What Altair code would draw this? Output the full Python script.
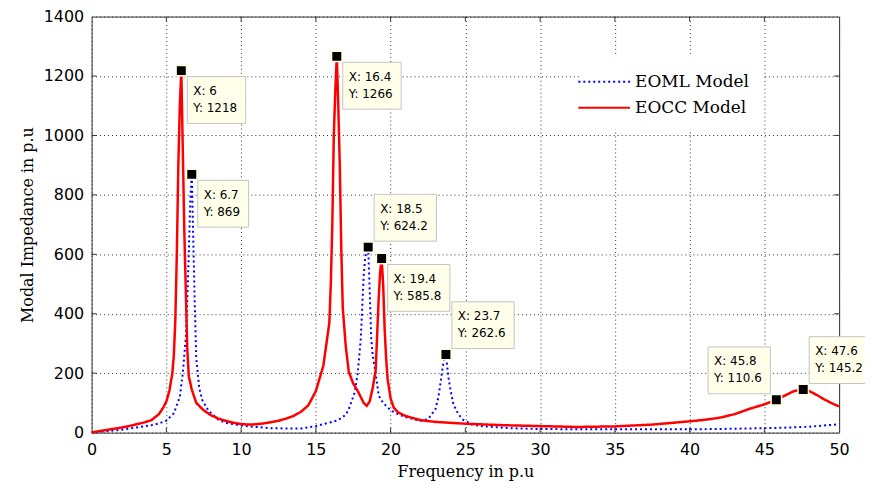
import altair as alt
import pandas as pd

# ---------------- data ----------------
eocc_x = [0, 0.5, 1, 1.5, 2, 2.5, 3, 3.5, 4, 4.5, 4.8, 5.0, 5.2, 5.4, 5.5, 5.6, 5.7, 5.8, 5.9, 6.0,
          6.1, 6.2, 6.3, 6.4, 6.5, 6.7, 7.0, 7.5, 8.0, 8.5, 9.0, 9.5, 10.0, 10.5, 11.0, 11.5, 12.0, 12.5, 13.0, 13.5,
          14.0, 14.5, 15.0, 15.5, 15.9, 16.0, 16.1, 16.2, 16.3, 16.4, 16.5, 16.6, 16.7, 16.8, 17.0, 17.2, 17.5, 17.8, 18.0, 18.2,
          18.4, 18.6, 18.8, 19.0, 19.1, 19.2, 19.3, 19.4, 19.5, 19.6, 19.7, 19.8, 20.0, 20.2, 20.5, 21.0, 22.0, 23.0, 24.0, 25.0,
          27.5, 30.0, 32.5, 35.0, 37.5, 40.0, 41.0, 42.0, 43.0, 44.0, 45.0, 45.8, 46.5, 47.0, 47.6, 48.0, 48.5, 49.0, 49.5, 50.0]
eocc_y = [0, 5, 9, 13, 17, 22, 28, 34, 42, 62, 85, 105, 140, 200, 260, 380, 600, 900, 1100, 1218,
          950, 680, 480, 280, 190, 145, 100, 75, 58, 47, 39, 33, 29, 27, 28, 31, 35, 40, 47, 56,
          70, 92, 140, 225, 369, 500, 700, 1000, 1150, 1266, 1100, 900, 620, 420, 290, 205, 165, 140, 120, 100,
          90, 105, 150, 210, 330, 450, 540, 585.8, 500, 350, 250, 180, 115, 85, 68, 56, 42, 36, 33, 30,
          25, 22, 19, 21, 27, 38, 43, 50, 62, 80, 95, 110.6, 128, 140, 145.2, 140, 127, 112, 99, 88]

eoml_x = [0, 1, 2, 3, 4, 4.5, 5, 5.5, 5.9, 6.1, 6.3, 6.4, 6.5, 6.6, 6.7, 6.8, 6.9, 7.0, 7.2, 7.4,
          7.8, 8.5, 9, 10, 11, 12, 13, 14, 15, 16, 16.5, 17, 17.2, 17.6, 17.8, 18.0, 18.1, 18.2, 18.3, 18.4,
          18.5, 18.6, 18.7, 18.8, 19.0, 19.2, 19.5, 20.0, 20.5, 21, 22, 22.5, 23.0, 23.2, 23.4, 23.5, 23.6, 23.7, 23.8, 23.9,
          24.0, 24.2, 24.5, 24.8, 25.4, 26, 28, 30, 35, 40, 43, 46, 48, 50]
eoml_y = [0, 5, 10, 17, 25, 31, 40, 65, 120, 200, 320, 450, 600, 780, 869, 650, 430, 250, 150, 110,
          75, 42, 33, 24, 19, 15, 14, 14, 22, 35, 42, 60, 79, 135, 200, 313, 420, 530, 590, 615,
          624.2, 480, 320, 260, 200, 125, 100, 75, 62, 52, 40, 45, 79, 120, 190, 225, 255, 262.6, 215, 175,
          146, 95, 65, 45, 28, 22, 15, 12, 11, 11, 13, 16, 20, 28]

series_names = ["EOML Model", "EOCC Model"]
series_colors = ["#0000FF", "#FF0000"]

ann_x = [6, 6.7, 16.4, 18.5, 19.4, 23.7, 45.8, 47.6]
ann_y = [1218, 869, 1266, 624.2, 585.8, 262.6, 110.6, 145.2]
ann_place = ["se", "se", "se", "ne", "se", "ne", "nw", "ne"]

x_ticks = [0, 5, 10, 15, 20, 25, 30, 35, 40, 45, 50]
y_ticks = [0, 200, 400, 600, 800, 1000, 1200, 1400]

# ---------------- layout ----------------
W, H = 751, 418

df = pd.concat([
    pd.DataFrame({"x": eoml_x, "y": eoml_y, "series": series_names[0]}),
    pd.DataFrame({"x": eocc_x, "y": eocc_y, "series": series_names[1]}),
], ignore_index=True)

xs = alt.Scale(domain=[0, 50], nice=False, zero=False)
ys = alt.Scale(domain=[0, 1400], nice=False)

x_axis = alt.Axis(values=x_ticks, format="d", title="Frequency in p.u", grid=True, labelPadding=9,
                  labelFlush=False, titleY=44.5, titleBaseline="alphabetic")
y_axis = alt.Axis(values=y_ticks, format="d", title="Modal Impedance in p.u", grid=True, labelPadding=8,
                  titleX=-59, titleBaseline="alphabetic")

X = alt.X("x:Q", scale=xs, axis=x_axis)
Y = alt.Y("y:Q", scale=ys, axis=y_axis)

# legend: line sample drawn as a custom path wider than its layout box
legend = alt.Legend(title=None, orient="none", legendX=490, legendY=40.5,
                    symbolType="M-2.6,0H2.6", symbolSize=400, symbolStrokeWidth=2,
                    labelFont="DejaVu Serif", labelFontSize=17, labelColor="#000000",
                    labelOffset=20, fillColor="white", padding=14, rowPadding=7, labelLimit=300)
color_enc = alt.Color("series:N", scale=alt.Scale(domain=series_names, range=series_colors), legend=legend)
dash_enc = alt.StrokeDash("series:N", scale=alt.Scale(domain=series_names, range=[[2, 3], [1, 0]]), legend=legend)

base = alt.Chart(df)
blue = base.transform_filter(alt.datum.series == series_names[0]).mark_line(strokeWidth=2).encode(
    x=X, y=Y, color=color_enc, strokeDash=dash_enc)
red = base.transform_filter(alt.datum.series == series_names[1]).mark_line(strokeWidth=2.5).encode(
    x=X, y=Y, color=color_enc, strokeDash=dash_enc)

layers = [blue, red]

# inward ticks (MATLAB style) on all four sides
xt = pd.DataFrame({"x": x_ticks[1:-1]})
yt = pd.DataFrame({"y": y_ticks[1:-1]})
tick_col = "#333333"
layers.append(alt.Chart(xt).mark_rule(color=tick_col).encode(x=X, y=alt.value(0), y2=alt.value(5)))
layers.append(alt.Chart(xt).mark_rule(color=tick_col).encode(x=X, y=alt.value(H), y2=alt.value(H - 5)))
layers.append(alt.Chart(yt).mark_rule(color=tick_col).encode(y=Y, x=alt.value(0), x2=alt.value(5)))
layers.append(alt.Chart(yt).mark_rule(color=tick_col).encode(y=Y, x=alt.value(W), x2=alt.value(W - 5)))

# data-tip markers
ann_df = pd.DataFrame({"x": ann_x, "y": ann_y})
layers.append(alt.Chart(ann_df).mark_square(size=110, fill="black", stroke="#FFFFDD",
                                            strokeWidth=1.5, opacity=1).encode(x=X, y=Y))

char_w = {"X": 0.685, "Y": 0.611, ":": 0.337, " ": 0.318, ".": 0.318}


def text_width(s, fs=12):
    return sum(char_w.get(c, 0.636) for c in s) * fs


BOX_H = 47
GAP = 6
for ax_, ay_, pl in zip(ann_x, ann_y, ann_place):
    l1 = f"X: {ax_:g}"
    l2 = f"Y: {ay_:g}"
    bw = max(text_width(l1), text_width(l2)) + 13
    x0 = GAP if "e" in pl else -GAP - bw
    y0 = GAP if "s" in pl else -GAP - BOX_H
    d = pd.DataFrame({"x": [ax_], "y": [ay_], "label": [l1 + "\n" + l2]})
    layers.append(alt.Chart(d).mark_rect(fill="#FFFFEA", stroke="#C4C4C4", strokeWidth=1,
                                         xOffset=x0, x2Offset=x0 + bw, yOffset=y0, y2Offset=y0 + BOX_H)
                  .encode(x=X, x2=alt.X2("x"), y=Y, y2=alt.Y2("y")))
    layers.append(alt.Chart(d).mark_text(align="left", baseline="alphabetic", dx=x0 + 6, dy=y0 + 18.5,
                                         font="DejaVu Sans", fontSize=12, lineHeight=17, lineBreak="\n",
                                         color="#000000")
                  .encode(x=X, y=Y, text="label:N"))

chart = alt.layer(*layers).properties(
    width=W, height=H,
    autosize=alt.AutoSizeParams(type="none"),
    padding={"left": 84, "top": 7.5, "right": 26, "bottom": 47},
    background="white",
).configure_view(
    stroke="#333333", strokeWidth=1
).configure_axis(
    domain=False, ticks=False, tickSize=0,
    gridColor="#333333", gridDash=[1, 3], gridWidth=1, gridOpacity=1,
    labelFont="DejaVu Sans", labelFontSize=16, labelColor="#000000",
    titleFont="DejaVu Serif", titleFontSize=16, titleFontWeight="normal", titleColor="#000000",
)

chart.save("out.html", embed_options={"renderer": "svg", "actions": False})
